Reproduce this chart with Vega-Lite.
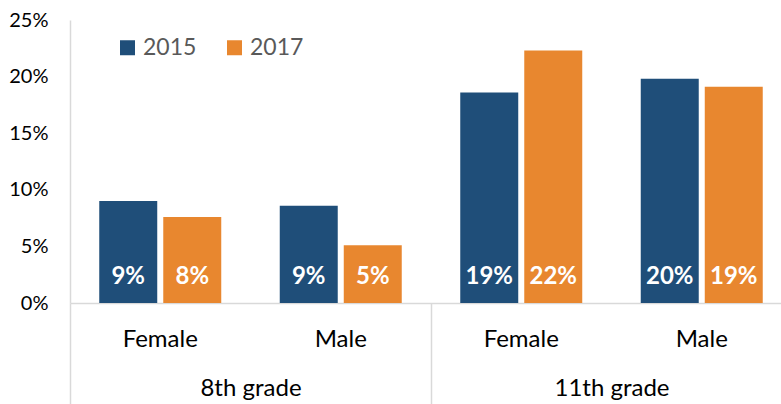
{
  "$schema": "https://vega.github.io/schema/vega-lite/v6.json",
  "autosize": "none",
  "width": 722,
  "height": 283,
  "padding": {"left": 70, "top": 20, "right": 0, "bottom": 101},
  "background": "white",
  "config": {"view": {"stroke": null}, "font": "Lato"},
  "data": {"values": [
    {"grade": "8th grade", "gender": "Female", "slot": "8th grade Female", "year": "2015", "value": 0.090},
    {"grade": "8th grade", "gender": "Female", "slot": "8th grade Female", "year": "2017", "value": 0.076},
    {"grade": "8th grade", "gender": "Male", "slot": "8th grade Male", "year": "2015", "value": 0.086},
    {"grade": "8th grade", "gender": "Male", "slot": "8th grade Male", "year": "2017", "value": 0.051},
    {"grade": "11th grade", "gender": "Female", "slot": "11th grade Female", "year": "2015", "value": 0.186},
    {"grade": "11th grade", "gender": "Female", "slot": "11th grade Female", "year": "2017", "value": 0.223},
    {"grade": "11th grade", "gender": "Male", "slot": "11th grade Male", "year": "2015", "value": 0.198},
    {"grade": "11th grade", "gender": "Male", "slot": "11th grade Male", "year": "2017", "value": 0.191}
  ]},
  "resolve": {"scale": {"x": "independent"}, "axis": {"x": "independent"}},
  "layer": [
    {
      "layer": [
        {
          "mark": {"type": "bar"},
          "encoding": {
            "x": {
              "field": "slot", "type": "nominal",
              "scale": {"domain": ["8th grade Female", "8th grade Male", "11th grade Female", "11th grade Male"], "paddingInner": 0, "paddingOuter": 0},
              "axis": {
                "orient": "bottom", "title": null, "ticks": false, "tickSize": 0,
                "domain": true, "domainColor": "#D9D9D9", "domainWidth": 1.5,
                "labelExpr": "split(datum.value, ' ')[2]",
                "labelAngle": 0, "labelFont": "Lato", "labelFontSize": 24, "labelColor": "#000000",
                "labelBaseline": "alphabetic", "labelPadding": 43
              }
            },
            "xOffset": {
              "field": "year", "type": "nominal",
              "scale": {"domain": ["2015", "2017"], "paddingInner": 0.094, "paddingOuter": 0.457}
            },
            "y": {
              "field": "value", "type": "quantitative",
              "scale": {"domain": [0, 0.25], "nice": false},
              "axis": {
                "title": null, "format": ".0%", "values": [0, 0.05, 0.1, 0.15, 0.2, 0.25],
                "grid": false, "ticks": false, "tickSize": 0,
                "domain": true, "domainColor": "#D9D9D9", "domainWidth": 1.5,
                "labelFont": "Lato", "labelFontSize": 20, "labelColor": "#000000", "labelPadding": 22
              }
            },
            "color": {
              "field": "year", "type": "nominal",
              "scale": {"domain": ["2015", "2017"], "range": ["#1F4E79", "#E8872F"]},
              "legend": {
                "title": null, "orient": "none", "legendX": 46, "legendY": 16,
                "direction": "horizontal", "symbolType": "square", "symbolSize": 225,
                "symbolStrokeWidth": 0, "symbolOpacity": 1,
                "labelFont": "Lato", "labelFontSize": 23, "labelColor": "#595959",
                "labelOffset": 4, "columnPadding": 26, "padding": 0
              }
            }
          }
        },
        {
          "mark": {"type": "text", "color": "white", "font": "Lato", "fontWeight": "bold", "fontSize": 24, "baseline": "alphabetic", "align": "center", "dy": -19},
          "encoding": {
            "x": {"field": "slot", "type": "nominal"},
            "xOffset": {"field": "year", "type": "nominal"},
            "y": {"datum": 0},
            "text": {"field": "value", "type": "quantitative", "format": ".0%"}
          }
        }
      ]
    },
    {
      "mark": {"type": "point", "opacity": 0},
      "encoding": {
        "x": {
          "field": "grade", "type": "nominal",
          "scale": {"domain": ["8th grade", "11th grade"], "paddingInner": 0, "paddingOuter": 0},
          "axis": {
            "orient": "bottom", "title": null, "domain": false,
            "ticks": true, "tickBand": "extent", "tickSize": 101, "tickColor": "#D9D9D9", "tickWidth": 1.5,
            "labelAngle": 0, "labelFont": "Lato", "labelFontSize": 24, "labelColor": "#000000",
            "labelBaseline": "alphabetic", "labelPadding": -9
          }
        },
        "y": {"field": "value", "type": "quantitative"}
      }
    }
  ]
}
